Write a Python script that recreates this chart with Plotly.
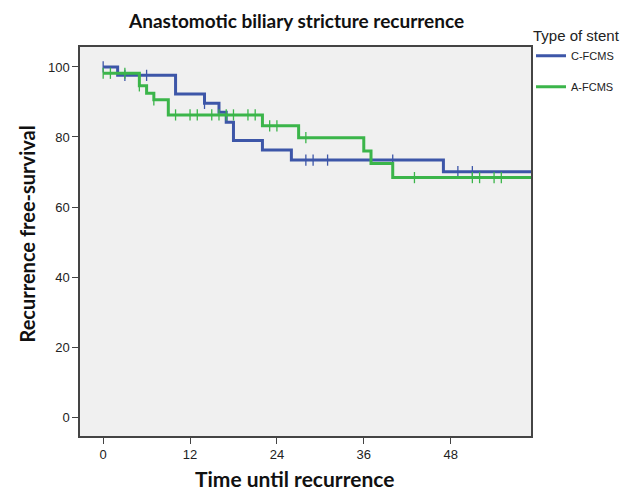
import plotly.graph_objects as go

# ---- data ----
groups = ["C-FCMS", "A-FCMS"]

cfcms_time = [0, 2, 10, 14, 16, 17, 18, 22, 26, 47, 60]
cfcms_surv = [100, 97.6, 92.3, 89.6, 87.1, 84.2, 79.0, 76.3, 73.4, 70.1, 70.1]
cfcms_censored = [0, 3, 6, 14, 28, 29, 31, 40, 49, 51]

afcms_time = [0, 5, 6, 7, 9, 22, 27, 36, 37, 40, 60]
afcms_surv = [98.2, 94.6, 92.5, 90.6, 86.3, 83.2, 79.8, 76.0, 72.4, 68.4, 68.4]
afcms_censored = [0, 1, 3, 5, 7, 10, 12, 13, 15, 16, 17, 18, 20, 21, 23, 24, 28, 43, 51, 52, 54, 55]

x_ticks = [0, 12, 24, 36, 48]
y_ticks = [0, 20, 40, 60, 80, 100]

colors = {"C-FCMS": "#3D56A8", "A-FCMS": "#3BB54A"}


def step_value(times, survs, t):
    v = survs[0]
    for ti, si in zip(times, survs):
        if ti <= t:
            v = si
    return v


fig = go.Figure()
series = {
    "C-FCMS": (cfcms_time, cfcms_surv, cfcms_censored),
    "A-FCMS": (afcms_time, afcms_surv, afcms_censored),
}
for name in groups:
    t, s, c = series[name]
    col = colors[name]
    fig.add_trace(go.Scatter(
        x=t, y=s, mode="lines", name=name, legendgroup=name,
        line=dict(color=col, width=3, shape="hv"),
    ))
    fig.add_trace(go.Scatter(
        x=c, y=[step_value(t, s, ci) for ci in c], mode="markers",
        legendgroup=name, showlegend=False,
        marker=dict(symbol="line-ns", size=8, line=dict(color=col, width=1.3)),
    ))

axis_common = dict(
    showgrid=False, zeroline=False, showline=True, mirror=True,
    linecolor="#444444", linewidth=1.5,
    ticks="outside", ticklen=6, tickcolor="#444444", tickwidth=1,
    tickfont=dict(family="Liberation Sans, Arial", size=13, color="#222222"),
)

# page body has an 8px margin, so the figure is 8px smaller than the window
fig.update_layout(
    width=634, height=484,
    margin=dict(l=72, r=111, t=39, b=56),
    paper_bgcolor="white",
    plot_bgcolor="#F0F0F0",
    showlegend=True,
    legend=dict(
        title=dict(text="Type of stent", font=dict(family="Liberation Sans, Arial", size=15, color="#222222")),
        font=dict(family="Liberation Sans, Arial", size=11, color="#222222"),
        x=1.0, y=1.065, xanchor="left", yanchor="top",
        tracegroupgap=12, itemwidth=30,
        bgcolor="rgba(0,0,0,0)",
    ),
    xaxis=dict(range=[-3.2, 59.1], tickvals=x_ticks, ticktext=[str(v) for v in x_ticks], **axis_common),
    yaxis=dict(range=[-5.4, 105.7], tickvals=y_ticks, ticktext=[str(v) for v in y_ticks], **axis_common),
    annotations=[
        dict(text="<b>Anastomotic biliary stricture recurrence</b>", xref="paper", yref="paper",
             x=0.479, y=1.069, xanchor="center", yanchor="middle", showarrow=False,
             font=dict(family="Lato", size=19, color="#111111")),
        dict(text="<b>Time until recurrence</b>", xref="paper", yref="paper",
             x=0.476, y=-0.108, xanchor="center", yanchor="middle", showarrow=False,
             font=dict(family="Lato", size=21, color="#111111")),
        dict(text="<b>Recurrence free-survival</b>", xref="paper", yref="paper",
             x=-0.118, y=0.52, xanchor="center", yanchor="middle", showarrow=False, textangle=-90,
             font=dict(family="Lato", size=20, color="#111111")),
    ],
)

fig.write_html("out.html")
